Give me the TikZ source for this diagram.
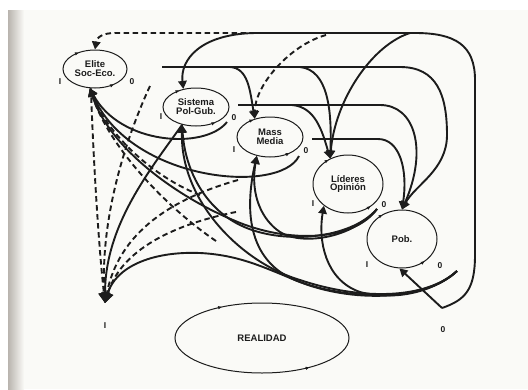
\documentclass[tikz,border=0pt]{standalone}
\usepackage{fontspec}
\setmainfont{Liberation Sans}
\usetikzlibrary{arrows.meta,shapes.geometric,decorations.markings}
\definecolor{paper}{RGB}{250,250,247}
\definecolor{gutter}{RGB}{185,180,174}
\definecolor{ink}{RGB}{28,28,28}
\newcommand{\actorfont}{\fontsize{9.5}{8.8}\selectfont\bfseries}
\newcommand{\iofont}{\fontsize{8.5}{9}\selectfont\bfseries}

\begin{document}
\begin{tikzpicture}[x=1pt, y=-1pt, ink,
    actor/.style={draw, ellipse, line width=1pt, inner sep=0pt, align=center, font=\actorfont,
      postaction={decorate, decoration={markings,
        mark=at position 0.35 with {\arrowreversed{Latex[length=4pt,width=3.5pt]}},
        mark=at position 0.87 with {\arrow{Latex[length=4pt,width=3.5pt]}}}}},
    io/.style={font=\iofont},
    flow/.style={line width=1.9pt, -{Triangle[length=8pt,width=8.5pt]}},
    dflow/.style={flow, dash pattern=on 5.5pt off 3.5pt},
    bigflow/.style={line width=1.9pt, -{Triangle[length=10pt,width=11pt]}},
    dbigflow/.style={bigflow, dash pattern=on 5.5pt off 3.5pt}]

  % Page
  \useasboundingbox (0,0) rectangle (528,389);
  \fill[white] (0,0) rectangle (528,389);
  \fill[paper] (8,10) rectangle (528,389);
  \shade[left color=gutter, right color=paper] (8,10) rectangle (24,389);

  % Actors
  \node[actor, minimum width=64pt, minimum height=38pt] (elite) at (95,69) {Elite\\Soc-Eco.};
  \node[actor, minimum width=66pt, minimum height=38pt] (sist) at (196,107) {Sistema\\Pol-Gub.};
  \node[actor, minimum width=66pt, minimum height=40pt] (mass) at (270,137) {Mass\\Media};
  \node[actor, minimum width=70pt, minimum height=58pt] (lider) at (348,184) {Líderes\\Opinión};
  \node[actor, minimum width=70pt, minimum height=58pt] (pob) at (402,239) {Pob.};
  \node[actor, minimum width=174pt, minimum height=70pt] (real) at (262,338) {REALIDAD};

  % Labels
  \node[io] (eliteI) at (60,82) {I};
  \node[io] (eliteO) at (132,82) {0};
  \node[io] (sistI) at (161,117) {I};
  \node[io] (sistO) at (234,118) {0};
  \node[io] (massI) at (234,150) {I};
  \node[io] (massO) at (306,151) {0};
  \node[io] (liderI) at (313,204) {I};
  \node[io] (liderO) at (384,205) {0};
  \node[io] (pobI) at (367,265) {I};
  \node[io] (pobO) at (440,266) {0};
  \node[io] (realI) at (105,326) {I};
  \node[io] (realO) at (443,330) {0};

  % Ends
  \coordinate (inL) at (105,303);
  \coordinate (jr) at (442,308);
  \coordinate (eliteT) at (150,86);
  \coordinate (eliteR) at (162,67);
  \coordinate (sistR) at (238,105);
  \coordinate (massR) at (312,139);
  \coordinate (sistT) at (227,122);
  \coordinate (massT) at (299,156);
  \coordinate (liderT) at (377,209);
  \coordinate (pobT) at (457,271);

  % Loop from the output
  \draw[flow, -] (jr) .. controls (465,300) and (475,290) .. (475,255) -- (475,80)
    .. controls (475,45) and (455,33) .. (415,33) -- (255,33);
  \draw[dflow] (255,33) -- (115,33) .. controls (103,33) and (97,37) .. (elite.north);
  \draw[flow] (255,33) .. controls (200,34) and (180,60) .. (sist.125);
  \draw[dflow] (326,35) .. controls (290,45) and (255,85) .. (mass.130);
  \draw[flow] (410,33) .. controls (372,45) and (335,100) .. (lider.125);
  \draw[flow] (jr) -- (pob.265);

  % Outputs to the right
  \draw[flow] (eliteR) -- (400,67) .. controls (437,67) and (447,95) .. (447,135)
    .. controls (447,170) and (415,185) .. (pob.north);
  \draw[flow] (230,67) .. controls (248,68) and (250,90) .. (mass.130);
  \draw[flow] (300,67) .. controls (328,70) and (332,110) .. (lider.125);
  \draw[flow] (sistR) -- (380,105) .. controls (415,105) and (428,150) .. (pob.north);
  \draw[flow] (292,105) .. controls (315,107) and (322,130) .. (lider.125);
  \draw[flow] (massR) -- (378,139) .. controls (400,139) and (408,170) .. (pob.north);

  % Feedback to the inputs
  \draw[flow] (sistT) .. controls (205,150) and (120,145) .. (elite.255);
  \draw[flow] (massT) .. controls (280,195) and (130,182) .. (elite.255);
  \draw[flow] (liderT) .. controls (355,240) and (290,245) .. (233,220)
    .. controls (180,198) and (110,150) .. (elite.255);
  \draw[flow] (liderT) .. controls (350,240) and (280,245) .. (240,225)
    .. controls (205,208) and (185,170) .. (sist.232);
  \draw[flow] (liderT) .. controls (350,240) and (300,245) .. (280,232)
    .. controls (262,220) and (250,195) .. (mass.235);
  \draw[flow] (pobT) .. controls (425,300) and (360,300) .. (300,280)
    .. controls (240,262) and (180,200) .. (sist.232);
  \draw[flow] (pobT) .. controls (425,302) and (350,300) .. (300,282)
    .. controls (260,268) and (240,230) .. (mass.235);
  \draw[flow] (pobT) .. controls (430,295) and (390,300) .. (360,292)
    .. controls (325,280) and (318,240) .. (lider.222);
  \draw[dflow] (216,241) .. controls (170,210) and (110,150) .. (elite.255);
  \draw[dflow] (200,195) .. controls (160,180) and (110,140) .. (elite.255);

  % Into the input below
  \draw[bigflow] (pobT) .. controls (425,302) and (350,302) .. (300,282)
    .. controls (265,268) and (240,255) .. (200,253) .. controls (150,251) and (115,268) .. (inL);
  \draw[bigflow] (sist.232) .. controls (150,170) and (105,225) .. (inL);
  \draw[dbigflow] (eliteT) .. controls (125,140) and (100,220) .. (inL);
  \draw[dbigflow] (elite.258) .. controls (93,150) and (98,240) .. (inL);
  \draw[dbigflow] (238,180) .. controls (185,195) and (120,225) .. (inL);
  \draw[dbigflow] (236,212) .. controls (185,222) and (122,245) .. (inL);
\end{tikzpicture}
\end{document}
